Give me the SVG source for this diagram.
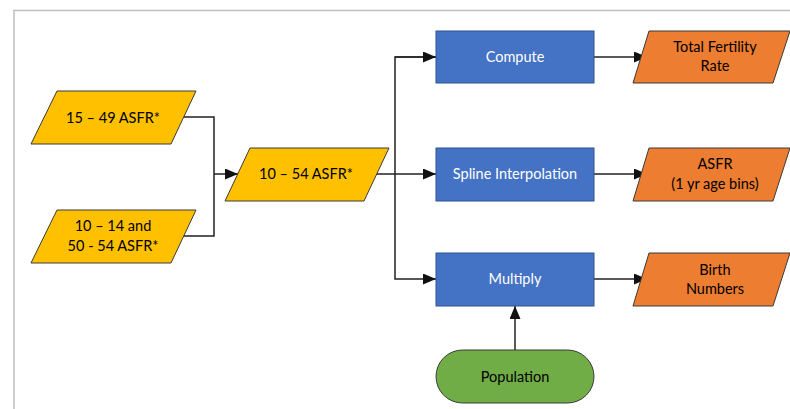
<svg xmlns="http://www.w3.org/2000/svg" width="790" height="409" viewBox="0 0 790 409">
<style>
text{font-family:Lato,"Liberation Sans",sans-serif;font-size:14.5px;text-anchor:middle;dominant-baseline:central;fill:#000}
.y{fill:#FFC000;stroke:#3a3a3a;stroke-width:1}
.o{fill:#ED7D31;stroke:#3a3a3a;stroke-width:1}
.b{fill:#4472C4;stroke:#2F528F;stroke-width:1}
.g{fill:#70AD47;stroke:#3a3a3a;stroke-width:1}
.w{fill:#fff}
.c{fill:none;stroke:#222;stroke-width:1.5}
</style>
<defs>
<marker id="a" viewBox="0 0 10 10" refX="10" refY="5" markerWidth="13" markerHeight="11" markerUnits="userSpaceOnUse" orient="auto" preserveAspectRatio="none">
<path d="M0,0L10,5L0,10z" fill="#111"/>
</marker>
</defs>
<rect x="0" y="0" width="790" height="409" fill="#fff"/>
<path d="M14,409V10.5H790" fill="none" stroke="#bfbfbf" stroke-width="1.5"/>
<g id="connectors">
<path class="c" d="M184,117H214V236H184"/>
<path class="c" d="M214,174H238" marker-end="url(#a)"/>
<path class="c" d="M377,174H436" marker-end="url(#a)"/>
<path class="c" d="M436,57H395V279H436" marker-end="url(#a)"/>
<path class="c" d="M395,57H436" marker-end="url(#a)"/>
<path class="c" d="M594,57H647" marker-end="url(#a)"/>
<path class="c" d="M594,174H647" marker-end="url(#a)"/>
<path class="c" d="M594,279H647" marker-end="url(#a)"/>
<path class="c" d="M515,350V306" marker-end="url(#a)"/>
</g>
<g id="in1"><polygon class="y" points="57,91 196,91 171,144 31,144"/><text x="113" y="117">15 – 49 ASFR*</text></g>
<g id="in2"><polygon class="y" points="57,210 196,210 171,263 31,263"/><text x="113" y="225">10 – 14 and</text><text x="113" y="245">50 - 54 ASFR*</text></g>
<g id="mid"><polygon class="y" points="250,148 389,148 364,201 225,201"/><text x="306" y="173">10 – 54 ASFR*</text></g>
<g id="compute"><rect class="b" x="436" y="31" width="158" height="52"/><text class="w" x="515" y="56">Compute</text></g>
<g id="spline"><rect class="b" x="436" y="148" width="158" height="53"/><text class="w" x="515" y="173">Spline Interpolation</text></g>
<g id="multiply"><rect class="b" x="436" y="253" width="158" height="53"/><text class="w" x="515" y="278">Multiply</text></g>
<g id="tfr"><polygon class="o" points="649,31 790,31 773,83 633,83"/><text x="715" y="46">Total Fertility</text><text x="715" y="65">Rate</text></g>
<g id="asfr"><polygon class="o" points="649,148 790,148 773,201 633,201"/><text x="715" y="163">ASFR</text><text x="715" y="183">(1 yr age bins)</text></g>
<g id="birth"><polygon class="o" points="649,253 790,253 773,306 633,306"/><text x="715" y="269">Birth</text><text x="715" y="288">Numbers</text></g>
<g id="population"><rect class="g" x="436" y="350" width="158" height="53" rx="26.5"/><text x="515" y="376">Population</text></g>
</svg>
